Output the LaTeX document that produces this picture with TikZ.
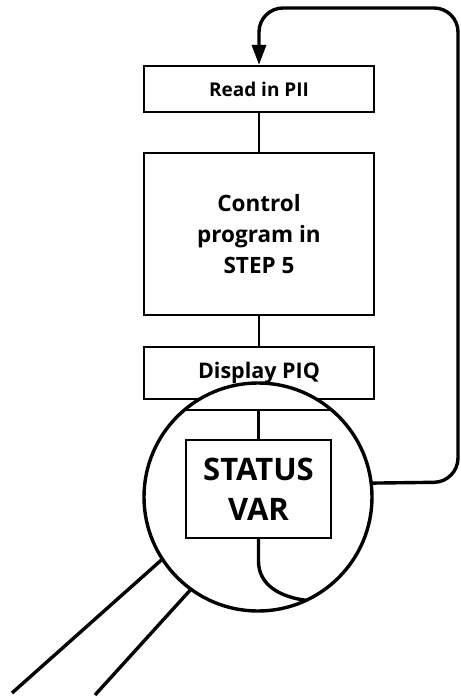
\documentclass[tikz,border=0pt]{standalone}
\usepackage{fontspec}
\setmainfont{Open Sans}
\usetikzlibrary{arrows.meta}

\tikzset{
    stepbox/.style={draw,line width=2.2pt,fill=white,inner sep=0pt,
        minimum width=230pt,align=center,font=\bfseries},
    wire/.style={line width=2.2pt},
    lensline/.style={line width=3.4pt}
}

\begin{document}
\begin{tikzpicture}[x=1pt,y=-1pt]
        \useasboundingbox (0,0) rectangle (460,698);

        \coordinate (read) at (259,89);
        \coordinate (prog) at (259,234);
        \coordinate (piq) at (259,373);
        \coordinate (stat) at (258.5,489);
        \coordinate (lensc) at (258,497);

        % the cycle
        \node[stepbox,minimum height=46pt,font=\bfseries\fontsize{19}{22}\selectfont] (ReadNode) at (read){Read in PII};
        \node[stepbox,minimum height=162pt,font=\bfseries\fontsize{22.5}{31}\selectfont] (ProgNode) at (prog){Control\\program in\\STEP 5};
        \node[stepbox,minimum height=52pt,font=\bfseries\fontsize{21.5}{24}\selectfont] (PiqNode) at (piq){Display PIQ};

        \draw[wire] (ReadNode) -- (ProgNode);
        \draw[wire] (ProgNode) -- (PiqNode);

        % magnifier
        \node[draw,circle,fill=white,lensline,minimum size=228pt,inner sep=0pt,outer sep=0pt] (LensNode) at (lensc){};
        \begin{scope}
            \clip (lensc) circle [radius=113];
            \draw[wire] (0,410) -- (460,410);
        \end{scope}
        \coordinate (chord) at (258.5,410);

        \node[stepbox,minimum width=145pt,minimum height=98pt,font=\bfseries\fontsize{31}{40}\selectfont] (StatNode) at (stat){STATUS\\VAR};
        \draw[wire] (chord) -- (StatNode);

        \draw[lensline] (StatNode.south) -- ++(0,22) .. controls (258.5,585) and (280,597) .. (LensNode.295);

        \coordinate (h1) at (12,693);
        \coordinate (h2) at (95,695);
        \draw[lensline] (LensNode.213) -- (h1);
        \draw[lensline] (LensNode.234) -- (h2);

        % back to the start
        \coordinate (c1) at (458,482);
        \coordinate (c2) at (458,8);
        \coordinate (c3) at (259,8);
        \draw[lensline,rounded corners=24pt,-{Triangle[length=20pt,width=14pt]}]
            (LensNode.7.5) -- (c1) -- (c2) -- (c3) -- (ReadNode.north);
    \end{tikzpicture}
\end{document}
